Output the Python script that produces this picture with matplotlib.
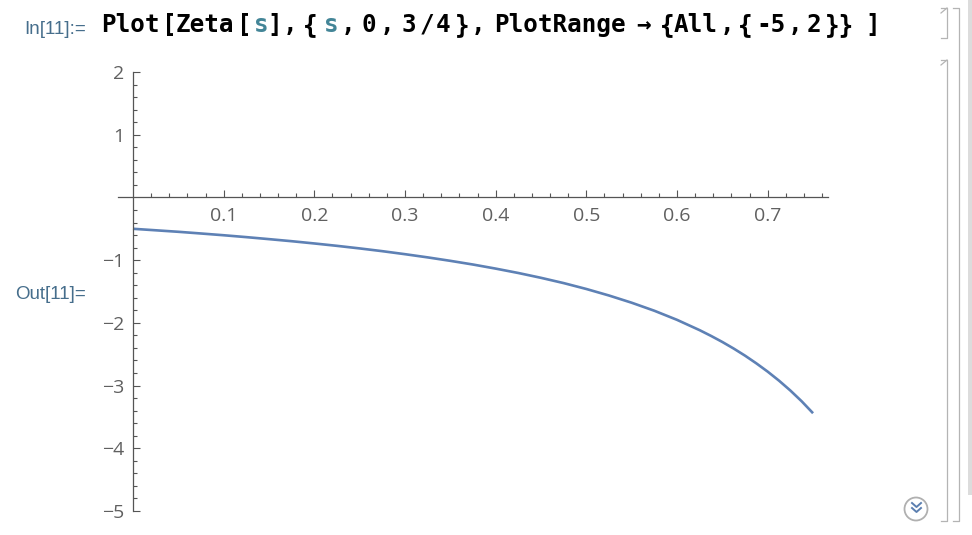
import numpy as np
import matplotlib
matplotlib.use('Agg')
import matplotlib.pyplot as plt
from matplotlib.lines import Line2D
from matplotlib.patches import Ellipse, Rectangle
from matplotlib.ticker import FixedLocator

# Curve values (s, Zeta[s]).
sVals = [0.0, 0.025, 0.05, 0.075, 0.1, 0.125, 0.15, 0.175, 0.2, 0.225,
         0.25, 0.275, 0.3, 0.325, 0.35, 0.375, 0.4, 0.425, 0.45, 0.475,
         0.5, 0.525, 0.55, 0.575, 0.6, 0.625, 0.6375, 0.65, 0.6625, 0.675,
         0.6875, 0.7, 0.7125, 0.725, 0.7375, 0.75]
zetaVals = [-0.500, -0.524, -0.548, -0.575, -0.603, -0.633, -0.665, -0.698,
            -0.734, -0.772, -0.813, -0.857, -0.905, -0.956, -1.011, -1.070,
            -1.135, -1.205, -1.282, -1.366, -1.460, -1.564, -1.679, -1.807,
            -1.952, -2.117, -2.208, -2.305, -2.410, -2.523, -2.646, -2.778,
            -2.922, -3.079, -3.251, -3.441]

xMajor = [0.1, 0.2, 0.3, 0.4, 0.5, 0.6, 0.7]
xLabels = ['0.1', '0.2', '0.3', '0.4', '0.5', '0.6', '0.7']
yMajor = [-5, -4, -3, -2, -1, 1, 2]
yLabels = ['\u22125', '\u22124', '\u22123', '\u22122', '\u22121', '1', '2']

W, H = 972, 535
lineClr = '#5E81B5'
axClr = '#555555'
lblClr = '#606060'
labelFont = 'Open Sans'

fig = plt.figure(figsize=(W / 100, H / 100), dpi=100)
fig.patch.set_facecolor('white')

def fx(px):
  return px / W

def fy(py):
  return 1 - py / H

# Axes placed so that x=0 sits at px 133 and y spans 72..511.
ax = fig.add_axes([fx(118), fy(511), fx(828) - fx(118), fy(72) - fy(511)])
ax.set_xlim(-0.0165, 0.7665)
ax.set_ylim(-5, 2)
ax.patch.set_alpha(0)

ax.plot(sVals, zetaVals, color=lineClr, lw=1.9, solid_capstyle='butt')

# Axes through the origin.
for side in ('top', 'right'):
  ax.spines[side].set_visible(False)
ax.spines['left'].set_position(('data', 0))
ax.spines['bottom'].set_position(('data', 0))
ax.spines['left'].set_bounds(-5, 2)
for side in ('left', 'bottom'):
  ax.spines[side].set_color(axClr)
  ax.spines[side].set_linewidth(0.9)

ax.xaxis.set_major_locator(FixedLocator(xMajor))
ax.xaxis.set_minor_locator(FixedLocator(
    [round(0.02 * i, 2) for i in range(1, 39) if (2 * i) % 10 != 0]))
ax.yaxis.set_major_locator(FixedLocator(yMajor))
ax.yaxis.set_minor_locator(FixedLocator(
    [round(-5 + 0.2 * i, 1) for i in range(1, 35) if i % 5 != 0]))
ax.set_xticklabels(xLabels)
ax.set_yticklabels(yLabels)

ax.tick_params(which='major', direction='in', length=5.2, width=0.8,
               color=axClr, labelcolor=lblClr, labelsize=14)
ax.tick_params(which='minor', direction='in', length=3.0, width=0.8,
               color=axClr)
ax.tick_params(axis='x', which='major', pad=7)
ax.tick_params(axis='y', which='major', pad=6.5)
for t in ax.get_xticklabels() + ax.get_yticklabels():
  t.set_family(labelFont)

# Notebook cell labels.
cellClr = '#466e8c'
fig.text(fx(24), fy(34), 'In[11]:=', color=cellClr, fontsize=13.5,
         family='Liberation Sans', va='baseline', ha='left')
fig.text(fx(15), fy(299), 'Out[11]=', color=cellClr, fontsize=13.5,
         family='Liberation Sans', va='baseline', ha='left')

# Input code, token by token.
teal = '#438597'
tokens = [('Plot', 101, 'k'), ('[', 162, 'k'), ('Zeta', 176, 'k'),
          ('[', 237, 'k'), ('s', 254, teal), (']', 267, 'k'), (',', 283, 'k'),
          ('{', 303, 'k'), ('s', 324, teal), (',', 341, 'k'), ('0', 361, 'k'),
          (',', 380, 'k'), ('3', 401, 'k'), ('/', 420, 'k'), ('4', 436, 'k'),
          ('}', 455, 'k'), (',', 471, 'k'), ('PlotRange', 494, 'k'),
          ('\u2192', 636, 'k'), ('{', 660, 'k'), ('All', 674, 'k'),
          (',', 720, 'k'), ('{', 738, 'k'), ('-5', 756, 'k'), (',', 788, 'k'),
          ('2', 807, 'k'), ('}}', 825, 'k'), (']', 865, 'k')]
for txt, px, clr in tokens:
  fig.text(fx(px), fy(32), txt, color=clr, fontsize=17.5,
           family='DejaVu Sans Mono', weight='bold', va='baseline', ha='left')

# Cell brackets on the right.
brClr = '#b4b4b4'
def figLine(xs, ys, clr=brClr, lw=0.9):
  fig.add_artist(Line2D([fx(x) for x in xs], [fy(y) for y in ys],
                        color=clr, lw=lw))

figLine([941, 947, 947, 941], [8, 8, 38, 38])
figLine([941, 947], [13, 8])
figLine([941, 947, 947, 941], [60, 60, 521, 521])
figLine([941, 947], [65, 60])
figLine([953, 959, 959, 953], [8, 8, 521, 521])

# Scroll bar strip.
fig.add_artist(Rectangle((fx(968), fy(495)), fx(972) - fx(968),
                         fy(0) - fy(495), color='#dcdcdc', lw=0))

# Scroll-down button.
fig.add_artist(Ellipse((fx(916), fy(509)), 23 / W, 23 / H, fill=False,
                       edgecolor='#b0b0b0', lw=1.3))
for top in (503, 508):
  figLine([912, 916.5, 921], [top, top + 4, top], clr='#5b7fb0', lw=1.4)

fig.savefig('out.png', dpi=100, facecolor='white')
